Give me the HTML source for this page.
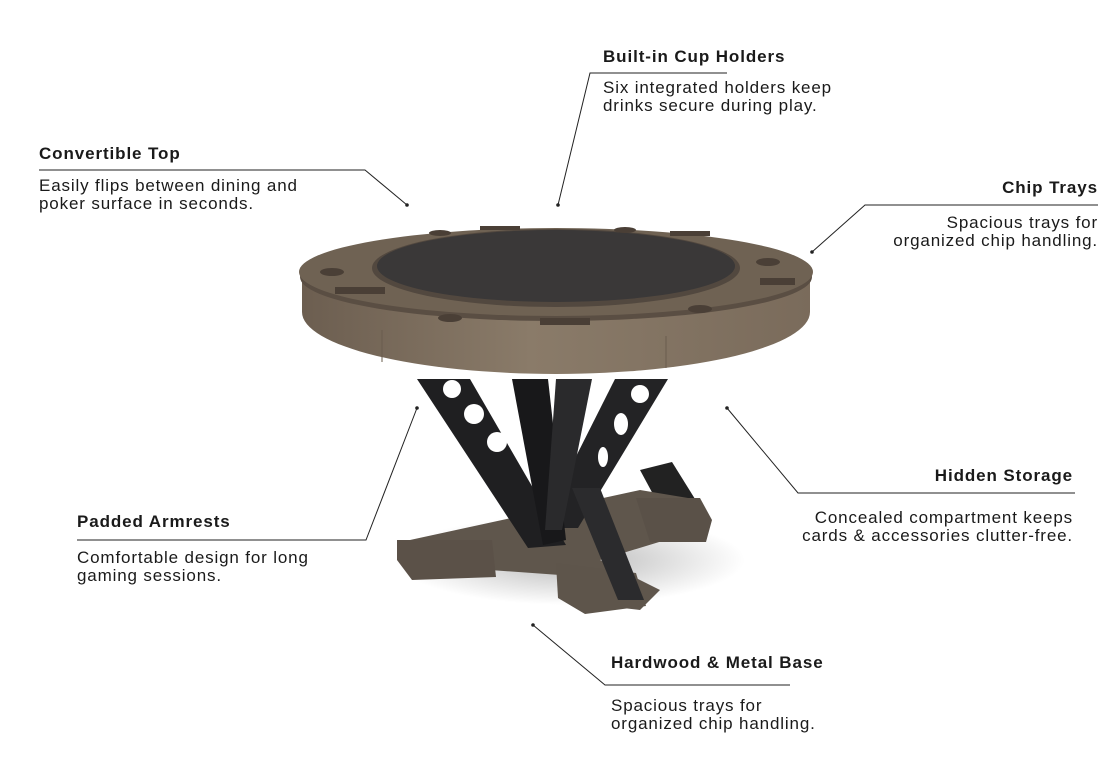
<!DOCTYPE html>
<html><head><meta charset="utf-8"><style>
html,body{margin:0;padding:0;background:#fff;}
body{width:1120px;height:776px;position:relative;overflow:hidden;font-family:"Liberation Sans","DejaVu Sans",sans-serif;color:#1a1a1a;}
.t{position:absolute;font-size:17px;line-height:18px;white-space:nowrap;letter-spacing:0.85px;}
.h{font-weight:bold;letter-spacing:0.9px;}
.r{text-align:right;}
svg{position:absolute;left:0;top:0;}
</style></head><body>
<svg width="1120" height="776" viewBox="0 0 1120 776">
<defs>
<radialGradient id="sh" cx="0.5" cy="0.5" r="0.5"><stop offset="0" stop-color="#000" stop-opacity="0.28"/><stop offset="1" stop-color="#000" stop-opacity="0"/></radialGradient>
<linearGradient id="ap" x1="0" x2="1"><stop offset="0" stop-color="#6c5e50"/><stop offset="0.45" stop-color="#8a7b69"/><stop offset="1" stop-color="#7a6b5b"/></linearGradient>
</defs>
<ellipse cx="570" cy="560" rx="175" ry="45" fill="url(#sh)"/>
<!-- back leg -->
<polygon points="640,470 672,462 705,515 668,522" fill="#222"/>
<!-- feet / cross beams -->
<polygon points="410,540 640,490 700,500 705,528 600,560 660,590 640,610 570,602 560,575 420,565" fill="#5f564c"/>
<polygon points="397,540 492,540 496,577 412,580 397,560" fill="#5b5148"/>
<polygon points="556,563 636,573 646,606 585,614 558,598" fill="#5e554b"/>
<polygon points="636,498 700,498 712,520 706,542 650,542" fill="#5a5148"/>
<!-- legs -->
<polygon points="417,379 470,379 566,545 528,548" fill="#1f1f21"/>
<polygon points="615,379 668,379 578,528 540,528" fill="#232325"/>
<polygon points="512,379 548,379 566,540 543,545" fill="#18181a"/>
<polygon points="556,379 592,379 562,530 545,530" fill="#2a2a2c"/>
<polygon points="572,488 600,488 644,600 618,600" fill="#2b2b2d"/>
<!-- holes -->
<circle cx="452" cy="389" r="9" fill="#fff"/>
<circle cx="474" cy="414" r="10" fill="#fff"/>
<circle cx="497" cy="442" r="10" fill="#fff"/>
<circle cx="640" cy="394" r="9" fill="#fff"/>
<ellipse cx="621" cy="424" rx="7" ry="11" fill="#fff"/>
<ellipse cx="603" cy="457" rx="5" ry="10" fill="#fff"/>
<!-- apron -->
<path d="M302,276 L810,276 L810,312 A254,62 0 0 1 302,312 Z" fill="url(#ap)"/>
<line x1="382" y1="330" x2="382" y2="362" stroke="#6a5c4e" stroke-width="1"/>
<line x1="666" y1="336" x2="666" y2="368" stroke="#6a5c4e" stroke-width="1"/>
<!-- top -->
<ellipse cx="556" cy="277" rx="256" ry="44" fill="#5a4e43"/>
<ellipse cx="556" cy="272" rx="257" ry="44" fill="#6f6253"/>
<ellipse cx="556" cy="268" rx="184" ry="39" fill="#52483f"/>
<ellipse cx="556" cy="266" rx="179" ry="36" fill="#3a3838"/>
<g fill="#4a3f36">
<ellipse cx="332" cy="272" rx="12" ry="4"/><ellipse cx="450" cy="318" rx="12" ry="4"/><ellipse cx="700" cy="309" rx="12" ry="4"/>
<ellipse cx="768" cy="262" rx="12" ry="4"/><ellipse cx="625" cy="230" rx="11" ry="3"/><ellipse cx="440" cy="233" rx="11" ry="3"/>
<rect x="335" y="287" width="50" height="7"/><rect x="540" y="318" width="50" height="7"/><rect x="760" y="278" width="35" height="7"/>
<rect x="480" y="226" width="40" height="4"/><rect x="670" y="231" width="40" height="5"/>
</g>
<!-- connectors -->
<g stroke="#222" stroke-width="1" fill="none">
<polyline points="39,170 365,170 407,205"/>
<polyline points="727,73 590,73 558,205"/>
<polyline points="1098,205 865,205 812,252"/>
<polyline points="1075,493 798,493 727,408"/>
<polyline points="77,540 366,540 417,408"/>
<polyline points="790,685 605,685 533,625"/>
</g>
<g fill="#222">
<circle cx="407" cy="205" r="1.8"/><circle cx="558" cy="205" r="1.8"/><circle cx="812" cy="252" r="1.8"/>
<circle cx="727" cy="408" r="1.8"/><circle cx="417" cy="408" r="1.8"/><circle cx="533" cy="625" r="1.8"/>
</g>
</svg>
<div class="t h" style="left:39px;top:145px;">Convertible Top</div>
<div class="t" style="left:39px;top:177px;">Easily flips between dining and<br>poker surface in seconds.</div>
<div class="t h" style="left:603px;top:48px;">Built-in Cup Holders</div>
<div class="t" style="left:603px;top:79px;">Six integrated holders keep<br>drinks secure during play.</div>
<div class="t h r" style="right:22px;top:179px;">Chip Trays</div>
<div class="t r" style="right:22px;top:214px;">Spacious trays for<br>organized chip handling.</div>
<div class="t h r" style="right:47px;top:467px;">Hidden Storage</div>
<div class="t r" style="right:47px;top:509px;">Concealed compartment keeps<br>cards &amp; accessories clutter-free.</div>
<div class="t h" style="left:77px;top:513px;">Padded Armrests</div>
<div class="t" style="left:77px;top:549px;">Comfortable design for long<br>gaming sessions.</div>
<div class="t h" style="left:611px;top:654px;">Hardwood &amp; Metal Base</div>
<div class="t" style="left:611px;top:697px;">Spacious trays for<br>organized chip handling.</div>
</body></html>
